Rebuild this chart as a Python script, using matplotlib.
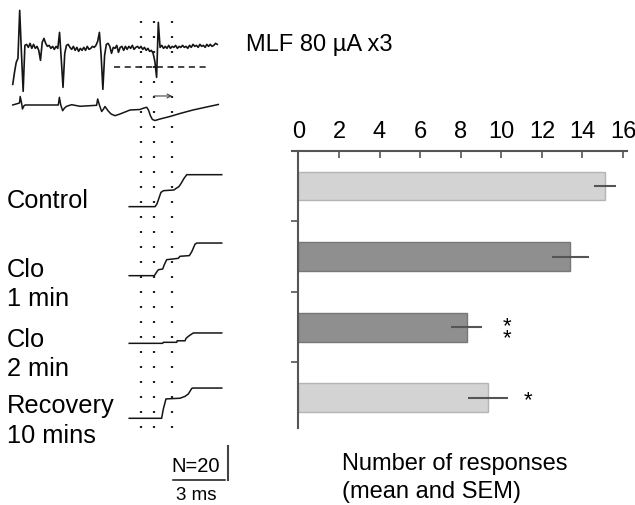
import numpy as np
import matplotlib.pyplot as plt

plt.rcParams['font.family'] = ['Liberation Sans', 'DejaVu Sans']

# ---- bar chart: number of responses (mean and SEM)
cond_labels = ['Control', 'Clo\n1 min', 'Clo\n2 min', 'Recovery\n10 mins']
resp_mean = [15.1, 13.4, 8.3, 9.35]
resp_sem = [0.53, 0.9, 0.77, 1.0]
bar_colors = ['#d3d3d3', '#8f8f8f', '#8f8f8f', '#d3d3d3']
bar_edges = ['#b4b4b4', '#777777', '#777777', '#b4b4b4']
signif = ['', '', '**', '*']
x_ticks = [0, 2, 4, 6, 8, 10, 12, 14, 16]

# ---- example traces, time in ms (0 = start of response window)
# unit recording, one sample every 0.1 ms, amplitude in arbitrary units
unit_t = np.linspace(-7.4, 4.4, 119)
unit_v = [-37, -25, -15, -11, 37, -5, -44, 2, 3, 0,
          4, -1, 3, -1, 1, -3, -13, 5, 9, 4,
          1, 2, -1, 1, -2, 1, -1, 15, -12, -40,
          -6, 2, 3, 0, -2, 1, -3, 0, -4, -1,
          -3, 0, -3, 1, -2, -1, 1, 0, 2, 6,
          15, -8, -42, -8, 3, 4, 1, -6, 0, -1,
          2, -5, 0, 1, -3, 1, -2, 1, -1, 2,
          -2, 0, 1, -1, 1, -2, 0, -3, -1, -4,
          -3, -6, -14, -30, 25, 0, 2, -1, 1, -1,
          2, -1, 1, 0, 2, -1, 1, 0, 2, 0,
          1, -1, 2, 0, 3, 1, 2, 0, 3, 1,
          2, 0, 3, 1, 3, 1, 2, 4, 3]
unit_thresh = -20

# field potential below it
field_t = [-7.40, -7.01, -6.97, -6.89, -6.84, -6.76, -6.69, -4.77, -4.71, -4.63,
           -4.52, -4.41, -4.29, -4.00, -3.52, -2.94, -2.56, -2.50, -2.40, -2.27,
           -2.16, -2.08, -1.89, -1.73, -1.50, -1.21, -0.63, -0.06, 0.17, 0.33,
           0.43, 0.55, 0.66, 0.81, 1.10, 1.67, 2.25, 3.00, 3.79, 4.46]
field_v = [0, 2, 8.5, 2, -4, -1, 0, 0, 7.7, 0,
           -5.7, -3, -1.3, 0.3, -1.3, -0.7, -0.3, 6, 0, -6.5,
           -4, -1.5, -6, -9, -10.7, -9, -5, -4.5, -3, -2.3,
           -5, -11, -14.5, -15.5, -14, -11.5, -8.5, -5, -2, 0.5]

# cumulative response counts (N = 20 stimuli)
ctrl_t = [-0.68, 0.81, 0.92, 1.04, 1.15, 1.30, 1.90, 2.02, 2.19, 2.31, 2.48, 2.64, 4.66]
ctrl_n = [0, 0, 1.6, 5.1, 8.4, 9.4, 9.8, 10.7, 11.8, 13.6, 16.6, 18.8, 18.8]
clo1_t = [-0.68, 0.77, 0.87, 1.00, 1.25, 1.34, 1.48, 1.83, 2.15, 2.25, 2.79, 2.93, 3.12, 3.23, 4.66]
clo1_n = [0, 0, 1.6, 3.5, 3.9, 6.3, 9.4, 9.8, 10.2, 11.4, 11.8, 14.1, 18.6, 19.2, 19.2]
clo2_t = [-0.68, 1.25, 1.29, 2.06, 2.09, 2.54, 2.60, 2.73, 2.93, 3.02, 4.66]
clo2_n = [0, 0, 0.6, 0.6, 1.5, 1.5, 2.9, 4.1, 5.5, 6.1, 6.1]
rec_t = [-0.68, 1.19, 1.29, 1.44, 2.25, 2.54, 2.73, 2.93, 3.00, 4.66]
rec_n = [0, 0, 5.5, 11.4, 11.8, 12.9, 14.3, 17.6, 17.8, 17.8]

win_ms = [0, 0.75, 1.8]

W, H = 635, 506
fig = plt.figure(figsize=(W / 100, H / 100), dpi=100)


def fx(px):
    return px / W


def fy(py):
    return 1 - py / H


# ---------------- left panel ----------------
axL = fig.add_axes([0, 0, 240 / W, 1])
axL.set_xlim(-8.136, 5.713)
axL.set_ylim(0, 297.65)
axL.axis('off')

gain = 1 / 1.7
ink = '#151515'
unit_base, field_base = 269.2, 235.3
axL.plot(unit_t, unit_base + gain * np.array(unit_v), color=ink, lw=1.2)
axL.plot(field_t, field_base + gain * np.array(field_v), color=ink, lw=1.1)
thr = axL.plot([-1.54, 3.88], [unit_base + gain * unit_thresh] * 2, color=ink, lw=1.1)[0]
thr.set_dashes([4.0, 3.0])
axL.annotate('', xy=(win_ms[2], 240.6), xytext=(win_ms[1], 240.6),
             arrowprops=dict(arrowstyle='->', lw=0.8, color='#444444',
                             shrinkA=0, shrinkB=0, mutation_scale=7))

cum_base = [175.5, 134.9, 95.1, 51.0]
for (t, n), b in zip([(ctrl_t, ctrl_n), (clo1_t, clo1_n), (clo2_t, clo2_n), (rec_t, rec_n)], cum_base):
    axL.plot(t, b + np.array(n), color=ink, lw=1.1)

for w in win_ms:
    axL.plot([w, w], [284.9, 45.0], color='#222222', lw=1.6,
             ls=(0, (0.9, 5.85)), solid_capstyle='butt', dash_capstyle='butt')

# scale bars: 3 ms, N = 20
axL.plot([1.85, 4.85], [14.9, 14.9], color=ink, lw=1.1)
axL.plot([5.0, 5.0], [14.9, 34.9], color='#444444', lw=1.5)
fig.text(fx(171.5), fy(471.7), 'N=20', fontsize=14.5, va='baseline', ha='left')
fig.text(fx(176), fy(500), '3 ms', fontsize=13.5, va='baseline', ha='left')

fig.text(fx(246.5), fy(50.7), 'MLF 80 \u00b5A x3', fontsize=17, va='baseline')

label_base = [208, 276.7, 346.7, 413]
for lab, yb in zip(cond_labels, label_base):
    for i, line in enumerate(lab.split('\n')):
        fig.text(fx(7), fy(yb + i * 29.8), line, fontsize=18.3, va='baseline')

# ---------------- bar chart ----------------
axB = fig.add_axes([fx(291.7), fy(429), (626.7 - 291.7) / W, (429 - 151.7) / H])
ypos = np.arange(len(resp_mean))
axB.barh(ypos, resp_mean, height=0.41, color=bar_colors, edgecolor=bar_edges, lw=1.0,
         xerr=resp_sem, error_kw=dict(ecolor='#555555', elinewidth=1.5, capsize=0))
axB.set_xlim(-0.33, 16.18)
axB.set_ylim(3.43, -0.5)

for s in ['right', 'bottom']:
    axB.spines[s].set_visible(False)
axB.spines['left'].set_position(('data', 0))
for s in ['top', 'left']:
    axB.spines[s].set_color('#555555')
    axB.spines[s].set_linewidth(1.5)

axB.xaxis.tick_top()
axB.set_xticks(x_ticks)
axB.tick_params(axis='x', direction='in', length=5, width=1.2, color='#555555',
                labelsize=17, pad=6)
axB.set_yticks([0.5, 1.5, 2.5])
axB.set_yticklabels([])
axB.tick_params(axis='y', direction='out', length=5, width=1.2, color='#555555')

for y, (m, e, s) in enumerate(zip(resp_mean, resp_sem, signif)):
    if s == '**':
        axB.text(m + e + 1.2, y + 0.07, '*\n*', fontsize=16, ha='center', va='center',
                 linespacing=0.45)
    elif s == '*':
        axB.text(m + e + 0.95, y + 0.03, '*', fontsize=16, ha='center', va='center')

fig.text(fx(342), fy(470.5), 'Number of responses', fontsize=17, va='baseline')
fig.text(fx(342), fy(498), '(mean and SEM)', fontsize=17, va='baseline')

fig.savefig('out.png', dpi=100)
